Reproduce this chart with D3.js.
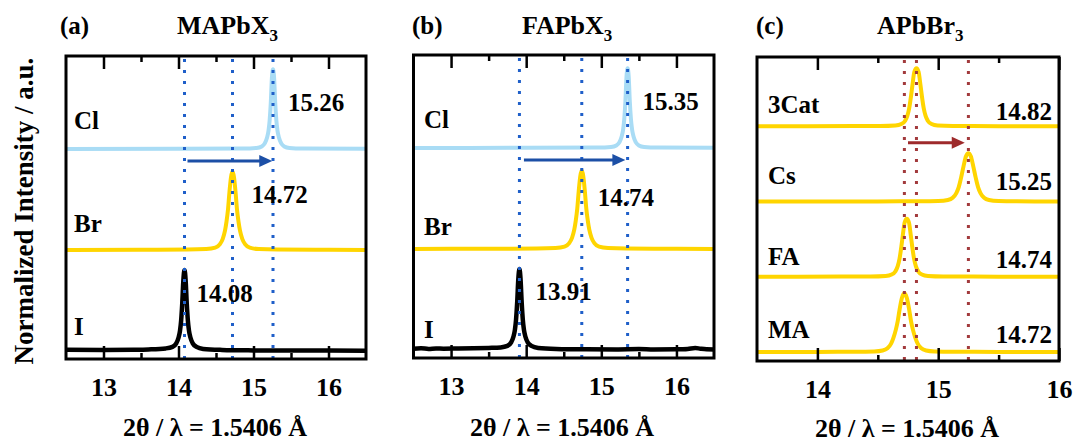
<!DOCTYPE html>
<html>
<head>
<meta charset="utf-8">
<script src="https://cdn.jsdelivr.net/npm/d3@7"></script>
<style>
  body { margin: 0; background: #fff; }
  svg { display: block; }
  text { font-family: "Liberation Serif", "Times New Roman", serif; font-weight: bold; fill: #000; }
</style>
</head>
<body>
<svg id="chart" width="1075" height="444"></svg>
<script>
// ---------- data ----------
const ticksAB = [13, 14, 15, 16];
const minorAB = [13.5, 14.5, 15.5];
const ticksC = [14, 15, 16];
const minorC = [14.5, 15.5];

// (a) MAPbX3 — series from bottom to top
const namesA = ["I", "Br", "Cl"];
const peaksA = [14.08, 14.72, 15.26];
const curveA_I = [[12.5,0.012],[13.0,0.01],[13.4,0.012],[13.6,0.015],[13.83,0.025],[13.92,0.04],[13.97,0.075],[14.0,0.13],[14.02,0.2],[14.035,0.3],[14.05,0.47],[14.065,0.7],[14.08,0.80],[14.095,0.7],[14.11,0.47],[14.125,0.3],[14.14,0.2],[14.16,0.13],[14.19,0.075],[14.24,0.04],[14.33,0.02],[14.58,0.01],[15.0,0.005],[15.5,0.003],[16.0,0.003],[16.5,0.002]];
const curveA_Br = [[12.5,0],[13.5,0.002],[14.12,0.003],[14.37,0.008],[14.49,0.022],[14.55,0.055],[14.59,0.11],[14.62,0.19],[14.64,0.28],[14.66,0.40],[14.68,0.58],[14.70,0.72],[14.72,0.78],[14.74,0.72],[14.76,0.58],[14.78,0.40],[14.80,0.28],[14.82,0.19],[14.85,0.11],[14.89,0.055],[14.95,0.022],[15.07,0.008],[15.32,0.003],[16.0,0.001],[16.5,0]];
const curveA_Cl = [[12.5,0],[14.0,0.001],[14.86,0.004],[15.04,0.01],[15.11,0.025],[15.15,0.055],[15.18,0.11],[15.20,0.18],[15.215,0.28],[15.23,0.45],[15.245,0.7],[15.26,0.79],[15.275,0.7],[15.29,0.45],[15.305,0.28],[15.32,0.18],[15.34,0.11],[15.37,0.055],[15.41,0.025],[15.48,0.01],[15.66,0.004],[16.5,0.001]];
const shiftA = [14.12, 15.25];

// (b) FAPbX3
const namesB = ["I", "Br", "Cl"];
const peaksB = [13.91, 14.74, 15.35];
const curveB_I = [[12.5,0.012],[12.6,0.016],[12.7,0.01],[12.8,0.015],[12.9,0.012],[13.1,0.014],[13.3,0.016],[13.5,0.02],[13.66,0.025],[13.75,0.04],[13.8,0.075],[13.83,0.13],[13.85,0.2],[13.865,0.3],[13.88,0.47],[13.895,0.7],[13.91,0.80],[13.925,0.7],[13.94,0.47],[13.955,0.3],[13.97,0.2],[13.99,0.13],[14.02,0.075],[14.07,0.04],[14.16,0.02],[14.4,0.01],[14.8,0.006],[15.2,0.005],[15.5,0.008],[15.7,0.004],[16.0,0.006],[16.15,0.01],[16.25,0.02],[16.32,0.012],[16.4,0.006],[16.5,0.005]];
const curveB_Br = [[12.5,0],[13.5,0.002],[14.14,0.003],[14.39,0.008],[14.51,0.022],[14.57,0.055],[14.61,0.11],[14.64,0.19],[14.66,0.28],[14.68,0.40],[14.70,0.58],[14.72,0.72],[14.74,0.78],[14.76,0.72],[14.78,0.58],[14.80,0.40],[14.82,0.28],[14.84,0.19],[14.87,0.11],[14.91,0.055],[14.97,0.022],[15.09,0.008],[15.34,0.003],[16.0,0.001],[16.5,0]];
const curveB_Cl = [[12.5,0],[14.0,0.001],[14.95,0.004],[15.13,0.01],[15.2,0.025],[15.24,0.055],[15.27,0.11],[15.29,0.18],[15.305,0.28],[15.32,0.45],[15.335,0.7],[15.35,0.79],[15.365,0.7],[15.38,0.45],[15.395,0.28],[15.41,0.18],[15.43,0.11],[15.46,0.055],[15.5,0.025],[15.57,0.01],[15.75,0.004],[16.5,0.001]];
const shiftB = [13.97, 15.32];

// (c) APbBr3
const namesC = ["MA", "FA", "Cs", "3Cat"];
const peaksC = [14.72, 14.74, 15.25, 14.82];
const curveC_MA = [[13.5,0],[14.0,0.001],[14.32,0.002],[14.47,0.007],[14.54,0.02],[14.58,0.05],[14.61,0.11],[14.63,0.19],[14.65,0.3],[14.665,0.41],[14.68,0.56],[14.70,0.72],[14.72,0.78],[14.74,0.72],[14.76,0.56],[14.775,0.41],[14.79,0.3],[14.81,0.19],[14.83,0.11],[14.86,0.05],[14.90,0.02],[14.97,0.007],[15.12,0.002],[15.5,0.001],[16.0,0]];
const curveC_FA = [[13.5,0],[14.2,0.002],[14.44,0.003],[14.565,0.01],[14.615,0.03],[14.645,0.07],[14.665,0.14],[14.68,0.24],[14.695,0.40],[14.707,0.55],[14.722,0.72],[14.74,0.77],[14.758,0.72],[14.773,0.55],[14.785,0.40],[14.80,0.24],[14.815,0.14],[14.835,0.07],[14.865,0.03],[14.915,0.01],[15.04,0.003],[15.5,0.001],[16.0,0]];
const curveC_Cs = [[13.5,0],[14.5,0.001],[14.85,0.002],[15.0,0.006],[15.08,0.02],[15.12,0.05],[15.15,0.11],[15.17,0.19],[15.19,0.32],[15.21,0.47],[15.23,0.6],[15.25,0.64],[15.27,0.6],[15.29,0.47],[15.31,0.32],[15.33,0.19],[15.35,0.11],[15.38,0.05],[15.42,0.02],[15.5,0.006],[15.65,0.002],[16.0,0]];
const curveC_3Cat = [[13.5,0],[14.3,0.002],[14.52,0.003],[14.645,0.01],[14.695,0.03],[14.725,0.07],[14.745,0.14],[14.76,0.24],[14.775,0.40],[14.787,0.55],[14.802,0.72],[14.82,0.77],[14.838,0.72],[14.853,0.55],[14.865,0.40],[14.88,0.24],[14.895,0.14],[14.915,0.07],[14.945,0.03],[14.995,0.01],[15.12,0.003],[15.5,0.001],[16.0,0]];
const guidesC = [14.72, 14.82, 15.25];
const shiftC = [14.75, 15.22];

const xTitle = "2\u03b8 / \u03bb = 1.5406 \u00c5";
const yTitle = "Normalized Intensity / a.u.";

// ---------- drawing ----------
const svg = d3.select("#chart");
const defs = svg.append("defs");
const fmt = d3.format(".2f");

function drawPanel(p) {
  const g = svg.append("g");
  const x = d3.scaleLinear().domain(p.xDomain).range([p.left, p.right]);
  const y = d3.scaleLinear().domain(p.yDomain).range([p.bottom, p.top]);

  defs.append("clipPath").attr("id", "clip-" + p.id)
    .append("rect")
    .attr("x", p.left).attr("y", p.top)
    .attr("width", p.right - p.left).attr("height", p.bottom - p.top);

  const line = d3.line()
    .x(d => x(d[0]))
    .y(d => y(d[1]))
    .curve(d3.curveMonotoneX);

  const plot = g.append("g").attr("clip-path", `url(#clip-${p.id})`);

  // stacked patterns, each lifted by one unit
  p.curves.forEach((c, i) => {
    plot.append("path")
      .datum(c.map(d => [d[0], d[1] + i]))
      .attr("fill", "none")
      .attr("stroke", p.colors[i])
      .attr("stroke-width", p.widths[i])
      .attr("stroke-linejoin", "round")
      .attr("d", line);
  });

  // dotted guides through the peak positions
  plot.selectAll("line.guide")
    .data(p.guides)
    .join("line")
    .attr("class", "guide")
    .attr("x1", d => x(d)).attr("x2", d => x(d))
    .attr("y1", p.top + 3).attr("y2", p.bottom)
    .attr("stroke", p.guideColor)
    .attr("stroke-width", 3)
    .attr("stroke-dasharray", "3 8");

  // shift arrow
  const ay = y(p.arrowLevel);
  const x0 = x(p.arrow[0]), x1 = x(p.arrow[1]);
  const head = 13;
  g.append("line")
    .attr("x1", x0).attr("x2", x1 - head + 1)
    .attr("y1", ay).attr("y2", ay)
    .attr("stroke", p.arrowColor).attr("stroke-width", 3);
  g.append("path")
    .attr("d", `M${x1},${ay} L${x1 - head},${ay - 6} L${x1 - head},${ay + 6} Z`)
    .attr("fill", p.arrowColor);

  // frame
  g.append("rect")
    .attr("x", p.left).attr("y", p.top)
    .attr("width", p.right - p.left).attr("height", p.bottom - p.top)
    .attr("fill", "none").attr("stroke", "#000").attr("stroke-width", 3);

  // inward ticks on bottom and top
  const styleAxis = sel => {
    sel.select(".domain").remove();
    sel.selectAll(".tick line").attr("stroke", "#000").attr("stroke-width", 2.5);
    sel.attr("font-family", null).attr("font-size", 26);
  };
  g.append("g").attr("transform", `translate(0,${p.bottom})`)
    .call(d3.axisBottom(x).tickValues(p.ticks).tickSizeInner(-13).tickSizeOuter(0)
      .tickPadding(18.5).tickFormat(d3.format("d")))
    .call(styleAxis);
  g.append("g").attr("transform", `translate(0,${p.bottom})`)
    .call(d3.axisBottom(x).tickValues(p.minor).tickSizeInner(-6).tickSizeOuter(0).tickFormat(""))
    .call(styleAxis);
  g.append("g").attr("transform", `translate(0,${p.top})`)
    .call(d3.axisTop(x).tickValues(p.ticks).tickSizeInner(-13).tickSizeOuter(0).tickFormat(""))
    .call(styleAxis);
  g.append("g").attr("transform", `translate(0,${p.top})`)
    .call(d3.axisTop(x).tickValues(p.minor).tickSizeInner(-6).tickSizeOuter(0).tickFormat(""))
    .call(styleAxis);
  g.selectAll(".tick text").attr("fill", "#000");

  // series names
  p.names.forEach((n, i) => {
    g.append("text")
      .attr("x", p.nameX)
      .attr("y", y(i) - p.nameLift[i])
      .attr("font-size", 25)
      .text(n);
  });

  // peak values
  p.peaks.forEach((v, i) => {
    const t = g.append("text").attr("font-size", 25).text(fmt(v));
    if (p.valueRight) {
      t.attr("x", p.valueRight).attr("text-anchor", "end").attr("y", y(i) - p.valueLift[i]);
    } else {
      t.attr("x", x(v) + p.valueDx[i]).attr("y", y(i) - p.valueLift[i]);
    }
  });

  // panel letter and title
  g.append("text").attr("x", p.letterX).attr("y", 34).attr("font-size", 25).text(p.letter);
  const title = g.append("text").attr("x", p.titleX).attr("y", 34).attr("font-size", 26);
  title.append("tspan").text(p.title[0]);
  title.append("tspan").attr("font-size", 17).attr("dy", 7).text(p.title[1]);

  // x axis title
  g.append("text")
    .attr("x", p.xTitleX).attr("y", p.xTitleY)
    .attr("text-anchor", "middle").attr("font-size", 26)
    .text(xTitle);
}

drawPanel({
  id: "a", left: 66, right: 366, top: 56, bottom: 359,
  xDomain: [12.5, 16.5], yDomain: [-0.08, 2.92],
  ticks: ticksAB, minor: minorAB,
  curves: [curveA_I, curveA_Br, curveA_Cl],
  colors: ["#000000", "#ffd500", "#a9dcf5"],
  widths: [4.5, 4, 4],
  names: namesA, nameX: 74, nameLift: [16, 18, 20],
  peaks: peaksA, valueDx: [12, 19, 15], valueLift: [49, 47, 38],
  guides: peaksA, guideColor: "#1f5fc9",
  arrow: shiftA, arrowLevel: 1.88, arrowColor: "#1c4fa6",
  letter: "(a)", letterX: 60, title: ["MAPbX", "3"], titleX: 177,
  xTitleX: 215, xTitleY: 436
});

drawPanel({
  id: "b", left: 413.5, right: 714, top: 55, bottom: 358,
  xDomain: [12.5, 16.5], yDomain: [-0.08, 2.92],
  ticks: ticksAB, minor: minorAB,
  curves: [curveB_I, curveB_Br, curveB_Cl],
  colors: ["#000000", "#ffd500", "#a9dcf5"],
  widths: [4.5, 4, 4],
  names: namesB, nameX: 424, nameLift: [12, 14, 20],
  peaks: peaksB, valueDx: [16, 16, 15], valueLift: [50, 43, 38],
  guides: peaksB, guideColor: "#1f5fc9",
  arrow: shiftB, arrowLevel: 1.88, arrowColor: "#1c4fa6",
  letter: "(b)", letterX: 412, title: ["FAPbX", "3"], titleX: 522,
  xTitleX: 562, xTitleY: 436
});

drawPanel({
  id: "c", left: 757, right: 1059, top: 57, bottom: 361,
  xDomain: [13.5, 16], yDomain: [-0.12, 3.92],
  ticks: ticksC, minor: minorC,
  curves: [curveC_MA, curveC_FA, curveC_Cs, curveC_3Cat],
  colors: ["#ffd500", "#ffd500", "#ffd500", "#ffd500"],
  widths: [4, 4, 4, 4],
  names: namesC, nameX: 768, nameLift: [14, 12, 17, 13],
  peaks: peaksC, valueRight: 1052, valueLift: [9, 9, 11, 6],
  guides: guidesC, guideColor: "#a23a3c",
  arrow: shiftC, arrowLevel: 2.78, arrowColor: "#9e2a2b",
  letter: "(c)", letterX: 756, title: ["APbBr", "3"], titleX: 877,
  xTitleX: 907, xTitleY: 437
});

// shared y axis title
svg.append("text")
  .attr("transform", "translate(33,211) rotate(-90)")
  .attr("text-anchor", "middle")
  .attr("font-size", 27)
  .text(yTitle);
</script>
</body>
</html>
